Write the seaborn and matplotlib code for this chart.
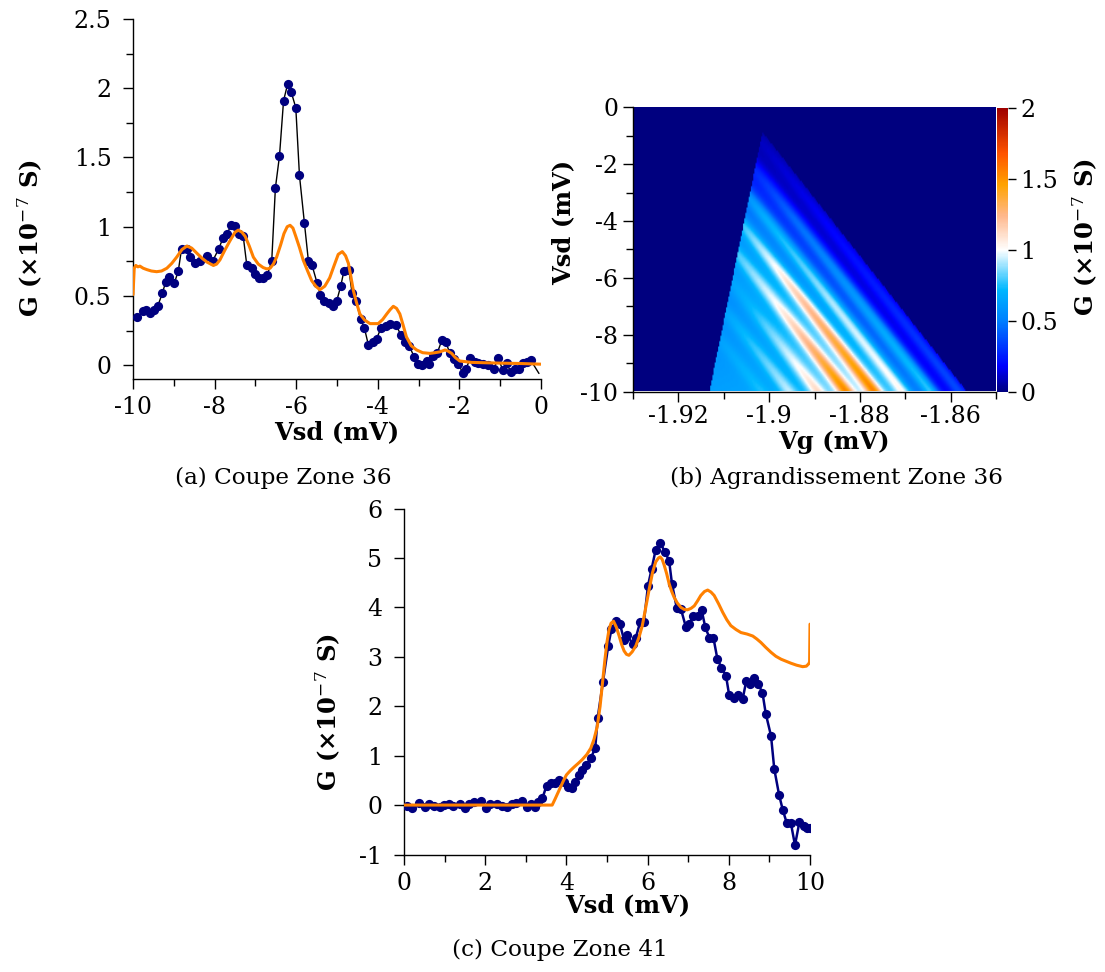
import numpy as np
import matplotlib
matplotlib.use("Agg")
import matplotlib.pyplot as plt
from matplotlib.colors import LinearSegmentedColormap
from matplotlib.ticker import MultipleLocator, FuncFormatter
import seaborn as sns

# ---------------- data: panel (a) Coupe Zone 36 ----------------
a_vsd = [-9.89, -9.76, -9.68, -9.58, -9.49, -9.39, -9.28, -9.20, -9.11, -8.99,
         -8.89, -8.81, -8.68, -8.60, -8.48, -8.36, -8.19, -8.05, -7.90, -7.79,
         -7.69, -7.60, -7.49, -7.39, -7.30, -7.21, -7.09, -7.01, -6.90, -6.81,
         -6.71, -6.60, -6.51, -6.41, -6.31, -6.21, -6.12, -6.01, -5.92, -5.80,
         -5.70, -5.61, -5.49, -5.41, -5.32, -5.20, -5.11, -5.01, -4.91, -4.83,
         -4.71, -4.63, -4.53, -4.42, -4.33, -4.23, -4.12, -4.03, -3.92, -3.81,
         -3.69, -3.55, -3.44, -3.33, -3.23, -3.11, -3.01, -2.92, -2.80, -2.74,
         -2.64, -2.54, -2.43, -2.34, -2.23, -2.13, -2.03, -1.91, -1.84, -1.73,
         -1.62, -1.54, -1.42, -1.31, -1.15, -1.05, -0.94, -0.84, -0.74, -0.64,
         -0.54, -0.43, -0.35, -0.25, -0.05]
a_g = [0.345, 0.39, 0.40, 0.38, 0.40, 0.43, 0.52, 0.60, 0.64, 0.59,
       0.68, 0.84, 0.84, 0.78, 0.74, 0.75, 0.79, 0.75, 0.84, 0.92,
       0.95, 1.01, 1.005, 0.95, 0.935, 0.72, 0.70, 0.66, 0.63, 0.63,
       0.65, 0.75, 1.28, 1.51, 1.91, 2.03, 1.97, 1.86, 1.37, 1.03,
       0.75, 0.72, 0.595, 0.51, 0.46, 0.45, 0.43, 0.46, 0.57, 0.68,
       0.69, 0.52, 0.46, 0.33, 0.27, 0.145, 0.17, 0.19, 0.27, 0.28,
       0.30, 0.29, 0.22, 0.17, 0.14, 0.06, 0.01, 0.0, 0.03, 0.005,
       0.065, 0.09, 0.18, 0.17, 0.085, 0.045, 0.005, -0.055, -0.03, 0.055,
       0.025, 0.012, 0.005, 0.0, -0.025, 0.055, -0.035, 0.012, -0.05, -0.025,
       -0.025, 0.017, 0.025, 0.035, -0.06]

a_fit_vsd = [-10.0, -9.97, -9.93, -9.88, -9.83, -9.75, -9.66, -9.55, -9.42, -9.30,
             -9.17, -9.05, -8.93, -8.80, -8.68, -8.56, -8.44, -8.30, -8.19, -8.03,
             -7.95, -7.87, -7.75, -7.62, -7.50, -7.42, -7.33, -7.25, -7.15, -7.05,
             -6.93, -6.81, -6.72, -6.64, -6.56, -6.48, -6.38, -6.30, -6.22, -6.15,
             -6.08, -6.01, -5.92, -5.83, -5.72, -5.62, -5.52, -5.42, -5.30, -5.18,
             -5.07, -4.97, -4.87, -4.79, -4.72, -4.66, -4.60, -4.52, -4.44, -4.32,
             -4.19, -3.99, -3.88, -3.78, -3.70, -3.62, -3.54, -3.46, -3.38, -3.30,
             -3.18, -3.05, -2.90, -2.72, -2.60, -2.48, -2.35, -2.27, -2.19, -2.10,
             -1.99, -1.70, -1.33, -0.90, -0.51, 0.0]
a_fit_g = [0.51, 0.70, 0.72, 0.71, 0.715, 0.70, 0.69, 0.68, 0.675, 0.68,
           0.70, 0.735, 0.78, 0.835, 0.86, 0.845, 0.81, 0.77, 0.745, 0.72,
           0.73, 0.76, 0.83, 0.90, 0.96, 0.975, 0.96, 0.93, 0.86, 0.78,
           0.73, 0.705, 0.695, 0.70, 0.73, 0.78, 0.87, 0.95, 1.00, 1.01,
           0.99, 0.93, 0.85, 0.76, 0.68, 0.61, 0.57, 0.545, 0.57, 0.63,
           0.72, 0.80, 0.82, 0.79, 0.735, 0.64, 0.54, 0.45, 0.37, 0.325,
           0.30, 0.30, 0.33, 0.37, 0.40, 0.425, 0.41, 0.37, 0.29, 0.205,
           0.14, 0.11, 0.09, 0.085, 0.09, 0.096, 0.11, 0.10, 0.085, 0.055,
           0.03, 0.02, 0.017, 0.014, 0.012, 0.007]

# ---------------- data: panel (c) Coupe Zone 41 ----------------
c_vsd = [0.08, 0.20, 0.37, 0.51, 0.61, 0.73, 0.88, 0.98, 1.10, 1.21,
         1.38, 1.50, 1.60, 1.72, 1.89, 2.01, 2.13, 2.30, 2.42, 2.53,
         2.65, 2.77, 2.90, 3.02, 3.12, 3.22, 3.30, 3.41, 3.51, 3.61,
         3.72, 3.82, 3.94, 4.03, 4.13, 4.21, 4.31, 4.39, 4.49, 4.60,
         4.71, 4.77, 4.90, 5.03, 5.11, 5.23, 5.32, 5.42, 5.50, 5.63,
         5.71, 5.82, 5.91, 6.01, 6.10, 6.20, 6.31, 6.43, 6.53, 6.60,
         6.72, 6.82, 6.94, 7.02, 7.12, 7.23, 7.33, 7.42, 7.52, 7.62,
         7.72, 7.82, 7.93, 8.01, 8.12, 8.22, 8.34, 8.43, 8.53, 8.63,
         8.73, 8.83, 8.91, 9.04, 9.12, 9.24, 9.33, 9.43, 9.53, 9.63,
         9.74, 9.84, 9.93, 10.0]
c_g = [-0.02, -0.05, 0.05, -0.03, 0.03, -0.01, -0.03, 0.01, 0.03, -0.01,
       0.02, -0.05, 0.02, 0.06, 0.09, -0.05, 0.02, 0.03, -0.01, -0.03,
       0.02, 0.05, 0.08, -0.03, 0.03, -0.03, 0.07, 0.14, 0.39, 0.44,
       0.45, 0.51, 0.47, 0.36, 0.35, 0.47, 0.61, 0.71, 0.81, 0.95,
       1.15, 1.76, 2.49, 3.22, 3.56, 3.73, 3.66, 3.34, 3.44, 3.26,
       3.39, 3.71, 3.71, 4.44, 4.78, 5.17, 5.30, 5.12, 4.94, 4.48,
       3.98, 3.97, 3.61, 3.66, 3.82, 3.82, 3.95, 3.60, 3.39, 3.39,
       2.95, 2.78, 2.62, 2.22, 2.16, 2.22, 2.14, 2.51, 2.44, 2.58,
       2.44, 2.27, 1.85, 1.40, 0.73, 0.20, -0.10, -0.37, -0.37, -0.81,
       -0.34, -0.43, -0.46, -0.47]

c_fit_vsd = [0.0, 3.65, 3.72, 3.82, 3.92, 4.00, 4.10, 4.19, 4.30, 4.39,
             4.50, 4.60, 4.68, 4.76, 4.83, 4.89, 4.95, 5.00, 5.05, 5.10,
             5.16, 5.23, 5.30, 5.36, 5.42, 5.48, 5.54, 5.62, 5.71, 5.79,
             5.87, 5.95, 6.04, 6.12, 6.20, 6.27, 6.31, 6.36, 6.41, 6.47,
             6.53, 6.59, 6.65, 6.73, 6.82, 6.90, 6.98, 7.07, 7.15, 7.23,
             7.31, 7.40, 7.48, 7.56, 7.64, 7.75, 7.85, 7.95, 8.05, 8.18,
             8.30, 8.45, 8.59, 8.69, 8.79, 8.91, 9.04, 9.16, 9.29, 9.41,
             9.53, 9.67, 9.82, 9.91, 9.97, 9.99, 10.0]
c_fit_g = [0.0, 0.0, 0.12, 0.30, 0.48, 0.61, 0.70, 0.77, 0.85, 0.92,
           1.02, 1.15, 1.33, 1.59, 2.00, 2.48, 2.95, 3.30, 3.55, 3.68,
           3.72, 3.60, 3.42, 3.25, 3.12, 3.05, 3.03, 3.10, 3.22, 3.40,
           3.63, 3.98, 4.37, 4.70, 4.92, 5.00, 5.02, 4.97, 4.85, 4.68,
           4.48, 4.33, 4.21, 4.09, 4.00, 3.96, 3.95, 3.98, 4.03, 4.13,
           4.24, 4.32, 4.35, 4.31, 4.24, 4.07, 3.90, 3.75, 3.63, 3.55,
           3.49, 3.46, 3.42, 3.36, 3.29, 3.19, 3.09, 3.01, 2.95, 2.91,
           2.87, 2.83, 2.80, 2.81, 2.86, 2.90, 3.66]

# ---------------- data: panel (b) Agrandissement Zone 36 (simulated map) ----------------
vg_range = [-1.93, -1.85]
vsd_range = [-10.0, 0.0]
apex_vg, apex_vsd = -1.9015, -0.89          # top of the conduction triangle
slope_right, slope_left = 0.00493, 0.00128  # Vg shift per mV of bias on each edge
stripe_offset = [0.33, 1.60, 2.87, 4.14, 5.41, 6.68, 7.95, 9.20]   # mV from right edge
stripe_depth = [0.0, 3.0, 6.0, 9.11]                               # mV below apex
stripe_amp = [[0.03, 0.10, 0.17, 0.25],
              [0.00, 0.24, 0.35, 0.45],
              [0.00, 0.30, 0.42, 0.42],
              [0.00, 0.22, 0.55, 0.75],
              [0.00, 0.10, 0.32, 0.70],
              [0.00, 0.00, 0.08, 0.36],
              [0.00, 0.00, 0.05, 0.25],
              [0.00, 0.00, 0.03, 0.10]]
stripe_width = 0.26
bg_offset = [0.0, 0.7, 1.0, 2.2, 3.5, 4.7, 6.0, 7.4, 9.0, 12.0]
bg_level = [0.10, 0.14, 0.17, 0.46, 0.74, 0.87, 0.82, 0.70, 0.65, 0.62]

cb_ticks = [0, 0.5, 1, 1.5, 2]

# ---------------- style ----------------
sns.set_theme(style="ticks")
plt.rcParams["font.family"] = ["DejaVu Serif"]
plt.rcParams["mathtext.fontset"] = "dejavuserif"
plt.rcParams["axes.unicode_minus"] = False
plt.rcParams["axes.linewidth"] = 1.0
for key in ["text.color", "axes.labelcolor", "xtick.color", "ytick.color",
            "axes.edgecolor", "xtick.labelcolor", "ytick.labelcolor"]:
    plt.rcParams[key] = "black"

NAVY = "#00007f"
ORANGE = "#ff8000"
TICK_FS = 17
LAB_FS = 17.5
CAP_FS = 16.7

W, H = 1105, 972
fig = plt.figure(figsize=(W / 100, H / 100), dpi=100)
fig.patch.set_facecolor("white")


def box(l, t, r, b):
    return [l / W, 1 - b / H, (r - l) / W, (b - t) / H]


fmt = FuncFormatter(lambda v, p: "%g" % round(v, 4))


def style_axes(ax, xmaj, xmin, ymaj, ymin, xpad, ypad):
    sns.despine(ax=ax)
    ax.xaxis.set_major_locator(MultipleLocator(xmaj))
    ax.yaxis.set_major_locator(MultipleLocator(ymaj))
    if xmin:
        ax.xaxis.set_minor_locator(MultipleLocator(xmin))
    if ymin:
        ax.yaxis.set_minor_locator(MultipleLocator(ymin))
    ax.xaxis.set_major_formatter(fmt)
    ax.yaxis.set_major_formatter(fmt)
    ax.tick_params(axis="both", which="major", direction="out", length=7.5,
                   width=1.0, labelsize=TICK_FS, colors="black")
    ax.tick_params(axis="both", which="minor", direction="out", length=5,
                   width=1.0, colors="black")
    ax.tick_params(axis="x", which="major", pad=xpad)
    ax.tick_params(axis="y", which="major", pad=ypad)
    ax.set_xlabel("")
    ax.set_ylabel("")
    ax.grid(False)


# ---------------- panel (a) ----------------
axA = fig.add_axes(box(133, 19, 541, 379))
sns.lineplot(x=a_vsd, y=a_g, ax=axA, color="black", lw=1.0, sort=False,
             estimator=None, zorder=2)
sns.scatterplot(x=a_vsd[:-1], y=a_g[:-1], ax=axA, color=NAVY, s=44,
                linewidth=0, zorder=3)
sns.lineplot(x=a_fit_vsd, y=a_fit_g, ax=axA, color=ORANGE, lw=2.2, sort=False,
             estimator=None, zorder=4)
axA.set_xlim(-10, 0)
axA.set_ylim(-0.1, 2.5)
style_axes(axA, 2, 1, 0.5, 0.25, 5, 8)

# ---------------- panel (b) ----------------
axB = fig.add_axes(box(633, 107.5, 996, 391.5))
nx, ny = 320, 160
vg = np.linspace(vg_range[0], vg_range[1], nx)
vsd = np.linspace(vsd_range[0], vsd_range[1], ny)
VG, VSD = np.meshgrid(vg, vsd)
depth = apex_vsd - VSD
right_edge = apex_vg + slope_right * depth
left_edge = apex_vg - slope_left * depth
inside = (depth >= 0) & (VG <= right_edge) & (VG >= left_edge)
dist = (right_edge - VG) / slope_right
field = np.interp(dist, bg_offset, bg_level) * (0.45 + 0.55 * depth / stripe_depth[-1])
for off, amps in zip(stripe_offset, stripe_amp):
    amp = np.interp(depth, stripe_depth, amps)
    field = field + amp * np.exp(-0.5 * ((dist - off) / stripe_width) ** 2)
field = np.where(inside, field, 0.0)

cmap = LinearSegmentedColormap.from_list(
    "g36",
    [(0.0, (0.0, 0.0, 0.50)),
     (0.09, (0.0, 0.0, 1.0)),
     (0.25, (0.0, 0.50, 1.0)),
     (0.36, (0.0, 0.72, 1.0)),
     (0.5, (1.0, 1.0, 1.0)),
     (0.62, (1.0, 0.72, 0.55)),
     (0.73, (1.0, 0.64, 0.0)),
     (0.84, (1.0, 0.33, 0.0)),
     (1.0, (0.62, 0.0, 0.0))])

im = axB.imshow(field, extent=[vg_range[0], vg_range[1], vsd_range[0], vsd_range[1]],
                origin="lower", aspect="auto", cmap=cmap, vmin=0, vmax=2,
                interpolation="bilinear")
axB.set_xlim(vg_range)
axB.set_ylim(vsd_range)
style_axes(axB, 0.02, 0.01, 2, 1, 2, 3)

cax = fig.add_axes(box(997, 108, 1008, 392))
cb = fig.colorbar(im, cax=cax)
cb.outline.set_visible(False)
cb.set_ticks(cb_ticks)
cb.ax.yaxis.set_major_formatter(fmt)
cb.ax.tick_params(direction="out", length=6, width=1.0, labelsize=TICK_FS,
                  pad=3, colors="black")

# ---------------- panel (c) ----------------
axC = fig.add_axes(box(404, 508.5, 810, 854.5))
sns.lineplot(x=c_vsd, y=c_g, ax=axC, color=NAVY, lw=1.8, sort=False,
             estimator=None, zorder=2)
sns.scatterplot(x=c_vsd, y=c_g, ax=axC, color=NAVY, s=44, linewidth=0, zorder=3)
sns.lineplot(x=c_fit_vsd, y=c_fit_g, ax=axC, color=ORANGE, lw=2.2, sort=False,
             estimator=None, zorder=4)
axC.set_xlim(0, 10)
axC.set_ylim(-1, 6)
style_axes(axC, 2, 1, 1, None, 5, 8)

# ---------------- labels & captions ----------------
ylab = "G (×10$^{-7}$ S)"


def ftext(x, y, s, **kw):
    fig.text(x / W, 1 - y / H, s, ha="center", va="center", color="black", **kw)


ftext(30, 238, ylab, rotation=90, fontsize=LAB_FS, fontweight="bold")
ftext(337, 432, "Vsd (mV)", fontsize=LAB_FS, fontweight="bold")
ftext(563, 222, "Vsd (mV)", rotation=90, fontsize=LAB_FS, fontweight="bold")
ftext(834, 442, "Vg (mV)", fontsize=LAB_FS, fontweight="bold")
ftext(1085, 237, ylab, rotation=90, fontsize=LAB_FS, fontweight="bold")
ftext(328, 712, ylab, rotation=90, fontsize=LAB_FS, fontweight="bold")
ftext(628, 905, "Vsd (mV)", fontsize=LAB_FS, fontweight="bold")

ftext(283, 478, "(a) Coupe Zone 36", fontsize=CAP_FS)
ftext(836, 478, "(b) Agrandissement Zone 36", fontsize=CAP_FS)
ftext(560, 950, "(c) Coupe Zone 41", fontsize=CAP_FS)

fig.savefig("out.png", dpi=100, facecolor="white")
